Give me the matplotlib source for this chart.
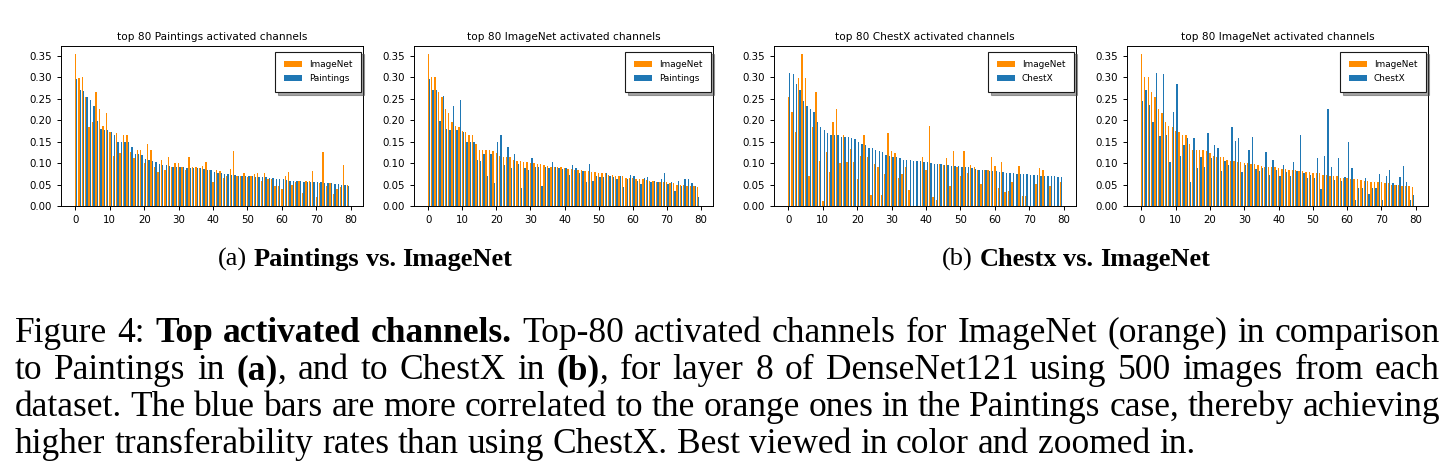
import matplotlib
matplotlib.use('Agg')
import matplotlib.pyplot as plt
from matplotlib.ticker import MultipleLocator, FormatStrFormatter
import numpy as np

# Indices de los 80 canales mas activados
CANALES = np.arange(80)

# --- Panel 1: top 80 canales de Paintings ---
imagenet_top_paintings = [
    0.355, 0.298, 0.300, 0.255, 0.185, 0.196, 0.265, 0.227, 0.187, 0.217,
    0.173, 0.117, 0.170, 0.123, 0.165, 0.166, 0.126, 0.112, 0.130, 0.130,
    0.100, 0.145, 0.130, 0.092, 0.080, 0.107, 0.085, 0.115, 0.090, 0.100,
    0.100, 0.090, 0.085, 0.113, 0.092, 0.090, 0.088, 0.093, 0.103, 0.085,
    0.056, 0.083, 0.082, 0.065, 0.070, 0.087, 0.129, 0.071, 0.071, 0.078,
    0.067, 0.069, 0.074, 0.076, 0.058, 0.076, 0.062, 0.063, 0.047, 0.047,
    0.040, 0.070, 0.079, 0.050, 0.057, 0.058, 0.031, 0.058, 0.058, 0.082,
    0.022, 0.053, 0.125, 0.046, 0.053, 0.028, 0.040, 0.045, 0.096, 0.050]
paintings_top_paintings = [
    0.295, 0.270, 0.268, 0.255, 0.247, 0.233, 0.198, 0.180, 0.178, 0.177,
    0.172, 0.165, 0.150, 0.150, 0.150, 0.149, 0.137, 0.120, 0.120, 0.118,
    0.110, 0.107, 0.104, 0.102, 0.097, 0.095, 0.095, 0.093, 0.091, 0.090,
    0.090, 0.090, 0.089, 0.088, 0.088, 0.088, 0.088, 0.087, 0.085, 0.083,
    0.079, 0.078, 0.077, 0.075, 0.074, 0.073, 0.072, 0.071, 0.071, 0.070,
    0.069, 0.069, 0.068, 0.068, 0.067, 0.067, 0.066, 0.065, 0.064, 0.063,
    0.062, 0.061, 0.059, 0.058, 0.058, 0.058, 0.057, 0.056, 0.056, 0.056,
    0.056, 0.055, 0.054, 0.053, 0.053, 0.052, 0.051, 0.050, 0.049, 0.047]

# --- Paneles 2 y 4: top 80 canales de ImageNet ---
imagenet_top_imagenet = [
    0.355, 0.300, 0.300, 0.265, 0.255, 0.227, 0.217, 0.195, 0.187, 0.185,
    0.175, 0.173, 0.166, 0.166, 0.145, 0.131, 0.130, 0.130, 0.130, 0.128,
    0.124, 0.116, 0.115, 0.114, 0.113, 0.107, 0.105, 0.104, 0.103, 0.103,
    0.101, 0.100, 0.098, 0.097, 0.095, 0.093, 0.092, 0.092, 0.091, 0.091,
    0.088, 0.087, 0.087, 0.085, 0.084, 0.083, 0.082, 0.082, 0.080, 0.079,
    0.077, 0.077, 0.076, 0.073, 0.072, 0.071, 0.070, 0.069, 0.066, 0.066,
    0.065, 0.064, 0.063, 0.062, 0.060, 0.059, 0.058, 0.057, 0.056, 0.056,
    0.055, 0.054, 0.054, 0.050, 0.049, 0.048, 0.047, 0.047, 0.046, 0.045]
paintings_top_imagenet = [
    0.295, 0.270, 0.270, 0.198, 0.257, 0.180, 0.178, 0.233, 0.178, 0.247,
    0.172, 0.150, 0.148, 0.150, 0.107, 0.104, 0.120, 0.071, 0.120, 0.053,
    0.150, 0.165, 0.095, 0.137, 0.088, 0.120, 0.097, 0.043, 0.088, 0.084,
    0.111, 0.090, 0.092, 0.046, 0.090, 0.088, 0.102, 0.090, 0.088, 0.086,
    0.088, 0.072, 0.095, 0.088, 0.077, 0.082, 0.056, 0.098, 0.058, 0.070,
    0.068, 0.068, 0.078, 0.070, 0.068, 0.062, 0.069, 0.045, 0.064, 0.073,
    0.070, 0.058, 0.052, 0.065, 0.067, 0.057, 0.058, 0.055, 0.062, 0.078,
    0.052, 0.057, 0.035, 0.058, 0.047, 0.063, 0.063, 0.053, 0.047, 0.021]
chestx_top_imagenet = [
    0.245, 0.270, 0.235, 0.195, 0.309, 0.163, 0.308, 0.165, 0.102, 0.219,
    0.284, 0.116, 0.142, 0.159, 0.057, 0.158, 0.088, 0.114, 0.092, 0.170,
    0.112, 0.141, 0.134, 0.081, 0.104, 0.095, 0.183, 0.151, 0.159, 0.079,
    0.096, 0.130, 0.160, 0.086, 0.081, 0.088, 0.125, 0.073, 0.108, 0.084,
    0.069, 0.096, 0.080, 0.069, 0.103, 0.082, 0.165, 0.078, 0.066, 0.072,
    0.066, 0.111, 0.039, 0.116, 0.226, 0.092, 0.060, 0.112, 0.058, 0.068,
    0.149, 0.088, 0.013, 0.041, 0.041, 0.066, 0.027, 0.042, 0.041, 0.075,
    0.015, 0.070, 0.083, 0.053, 0.050, 0.068, 0.093, 0.056, 0.015, 0.025]

# --- Panel 3: top 80 canales de ChestX ---
imagenet_top_chestx = [
    0.255, 0.218, 0.173, 0.299, 0.355, 0.298, 0.070, 0.185, 0.265, 0.105,
    0.012, 0.125, 0.080, 0.196, 0.227, 0.100, 0.165, 0.102, 0.132, 0.103,
    0.064, 0.117, 0.166, 0.114, 0.026, 0.099, 0.092, 0.025, 0.075, 0.170,
    0.129, 0.124, 0.066, 0.075, 0.090, 0.037, 0.000, 0.000, 0.000, 0.113,
    0.084, 0.186, 0.022, 0.013, 0.099, 0.095, 0.112, 0.047, 0.129, 0.092,
    0.069, 0.129, 0.078, 0.095, 0.092, 0.085, 0.052, 0.083, 0.085, 0.114,
    0.094, 0.043, 0.102, 0.032, 0.035, 0.055, 0.000, 0.093, 0.024, 0.024,
    0.000, 0.000, 0.052, 0.088, 0.084, 0.000, 0.047, 0.000, 0.000, 0.057]
chestx_top_chestx = [
    0.309, 0.308, 0.285, 0.270, 0.245, 0.234, 0.227, 0.220, 0.195, 0.183,
    0.178, 0.171, 0.165, 0.165, 0.165, 0.160, 0.160, 0.160, 0.158, 0.155,
    0.150, 0.145, 0.143, 0.134, 0.134, 0.131, 0.129, 0.125, 0.118, 0.117,
    0.115, 0.113, 0.112, 0.108, 0.107, 0.107, 0.106, 0.106, 0.105, 0.103,
    0.102, 0.101, 0.099, 0.098, 0.097, 0.096, 0.095, 0.093, 0.093, 0.093,
    0.092, 0.091, 0.090, 0.088, 0.086, 0.085, 0.085, 0.083, 0.082, 0.082,
    0.081, 0.080, 0.079, 0.078, 0.077, 0.076, 0.075, 0.075, 0.074, 0.074,
    0.073, 0.073, 0.072, 0.071, 0.070, 0.070, 0.069, 0.069, 0.068, 0.068]

TITULOS = ["top 80 Paintings activated channels",
           "top 80 ImageNet activated channels",
           "top 80 ChestX activated channels",
           "top 80 ImageNet activated channels"]
SERIES_NARANJA = [imagenet_top_paintings, imagenet_top_imagenet,
                  imagenet_top_chestx, imagenet_top_imagenet]
SERIES_AZUL = [paintings_top_paintings, paintings_top_imagenet,
               chestx_top_chestx, chestx_top_imagenet]
ETIQUETAS_AZUL = ["Paintings", "Paintings", "ChestX", "ChestX"]

# Texto de las subleyendas y del pie de figura (* marca negrita)
SUBCAPTIONS = [("(a) *Paintings* *vs.* *ImageNet*", 365),
               ("(b) *Chestx* *vs.* *ImageNet*", 1076)]
CAPTION = [
    "Figure 4: *Top* *activated* *channels.* Top-80 activated channels for ImageNet (orange) in comparison",
    "to Paintings in *(a)*, and to ChestX in *(b)*, for layer 8 of DenseNet121 using 500 images from each",
    "dataset. The blue bars are more correlated to the orange ones in the Paintings case, thereby achieving",
    "higher transferability rates than using ChestX. Best viewed in color and zoomed in."]

W, H = 1454, 476
NARANJA = '#ff8c00'
AZUL = '#1f77b4'
SERIF = 'Liberation Serif'

# Posiciones de los ejes en pixeles: (izquierda, derecha, arriba, abajo)
CAJAS = [(61, 363, 46, 206), (414, 713, 46, 206),
         (774, 1076, 46, 206), (1127, 1428, 46, 206)]

fig = plt.figure(figsize=(W / 100, H / 100), dpi=100)

for caja, titulo, naranja, azul, etiqueta in zip(CAJAS, TITULOS, SERIES_NARANJA,
                                                  SERIES_AZUL, ETIQUETAS_AZUL):
    izq, der, arr, aba = caja
    ax = fig.add_axes([izq / W, 1 - aba / H, (der - izq) / W, (aba - arr) / H])
    ax.bar(CANALES, naranja, width=0.4, color=NARANJA, label='ImageNet')
    ax.bar(CANALES + 0.4, azul, width=0.4, color=AZUL, label=etiqueta)
    ax.set_title(titulo, fontsize=7.6, pad=4)
    ax.yaxis.set_major_locator(MultipleLocator(0.05))
    ax.yaxis.set_major_formatter(FormatStrFormatter('%.2f'))
    ax.tick_params(labelsize=7.4, length=3, width=0.7)
    for s in ax.spines.values():
        s.set_linewidth(0.7)
    leg = ax.legend(loc='upper right', bbox_to_anchor=(0.994, 0.965),
                    borderaxespad=0, fontsize=6.4, borderpad=1.0,
                    shadow=True, framealpha=1, fancybox=False)
    leg.get_frame().set_edgecolor('0.1')
    leg.get_frame().set_linewidth(0.8)

renderer = fig.canvas.get_renderer()


def piezas(palabra):
    # Divide una palabra en trozos normal / negrita
    partes = palabra.split('*')
    return [(p, 'bold' if i % 2 else 'normal') for i, p in enumerate(partes) if p]


def ancho(texto, peso, tam):
    t = fig.text(0, 0, texto, fontsize=tam, fontweight=peso, family=SERIF)
    w = t.get_window_extent(renderer).width
    t.remove()
    return w


def dibujar_linea(linea, x0, y, tam, ancho_total=None, centro=None):
    palabras = [piezas(p) for p in linea.split(' ')]
    anchos = [[ancho(t, pe, tam) for t, pe in pal] for pal in palabras]
    suma = sum(sum(a) for a in anchos)
    espacio = 0.25 * tam * 100 / 72
    if ancho_total is not None:
        espacio = (ancho_total - suma) / (len(palabras) - 1)
    if centro is not None:
        x0 = centro - (suma + espacio * (len(palabras) - 1)) / 2
    x = x0
    for pal, an in zip(palabras, anchos):
        for (t, pe), a in zip(pal, an):
            fig.text(x / W, 1 - y / H, t, fontsize=tam, fontweight=pe,
                     family=SERIF, va='baseline', ha='left')
            x += a
        x += espacio


for texto, centro in SUBCAPTIONS:
    dibujar_linea(texto, 0, 266, 19, centro=centro)

BASES = [342, 379, 416, 453]
for i, (linea, base) in enumerate(zip(CAPTION, BASES)):
    total = 1425 if i < len(CAPTION) - 1 else None
    dibujar_linea(linea, 15, base, 25.5, ancho_total=total)

fig.savefig('out.png', dpi=100)
